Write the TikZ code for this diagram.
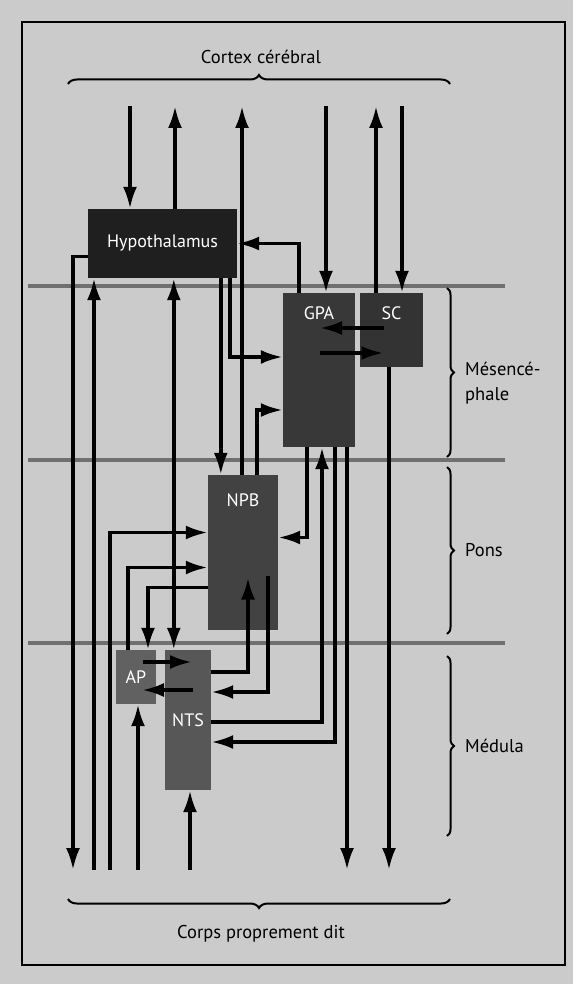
\documentclass[tikz,border=0pt]{standalone}
\usepackage{fontspec}
\setmainfont{PT Sans}
\usepackage{tikz}
\usetikzlibrary{arrows.meta,decorations.pathreplacing}
\definecolor{paper}{HTML}{CBCBCB}
\definecolor{sepGray}{HTML}{707070}

\begin{document}
\begin{tikzpicture}[
  x=1pt, y=-1pt,
  txt/.style={font=\fontsize{18.5}{22}\selectfont, inner sep=2pt},
  box/.style={fill=#1, text=white, font=\fontsize{18}{21}\selectfont, inner sep=0pt},
  lbl/.style={anchor=north, text=white, font=\fontsize{18}{21}\selectfont},
  arr/.style={-{Latex[length=22pt,width=14pt]}, line width=3.6pt},
  dbl/.style={{Latex[length=22pt,width=14pt]}-{Latex[length=22pt,width=14pt]}, line width=3.6pt},
  brc/.style={decorate, decoration={brace, amplitude=#1}, line width=2pt},
  sepline/.style={draw=sepGray, line width=4pt}
]
  \useasboundingbox (0,0) rectangle (573,984);
  \fill[paper] (0,0) rectangle (573,984);
  \draw[line width=1.4pt] (22,22) rectangle (565,965);

  \draw[sepline] (28,286) -- (505,286);
  \draw[sepline] (28,460) -- (505,460);
  \draw[sepline] (28,643) -- (505,643);

  \node[txt] (cortex) at (261,57) {Cortex cérébral};
  \node[txt] (corps) at (261,934) {Corps proprement dit};
  \node[txt, anchor=west, align=left, font=\fontsize{18.5}{25}\selectfont] (mes) at (463,383) {Mésencé-\\phale};
  \node[txt, anchor=west] (pons) at (463,550) {Pons};
  \node[txt, anchor=west] (med) at (463,746) {Médula};

  \draw[brc=9pt] (68,84) -- (450,84);
  \draw[brc=9pt] (450,899) -- (68,899);
  \draw[brc=7pt] (447,288) -- (447,457);
  \draw[brc=7pt] (447,467) -- (447,634);
  \draw[brc=7pt] (447,656) -- (447,836);

  \coordinate (ctx1) at (130,106);
  \coordinate (ctx2) at (175,106);
  \coordinate (ctx3) at (242,106);
  \coordinate (ctx4) at (326,106);
  \coordinate (ctx5) at (376,106);
  \coordinate (ctx6) at (402,106);
  \coordinate (crp1) at (73,870);
  \coordinate (crp2) at (94,870);
  \coordinate (crp3) at (110,870);
  \coordinate (crp4) at (138,870);
  \coordinate (crp5) at (190,870);
  \coordinate (crp6) at (347,870);
  \coordinate (crp7) at (389,870);

  \node[box=black!88, minimum width=149pt, minimum height=69pt] (hyp) at (162.5,243.5) {Hypothalamus};
  \node[box=black!78, minimum width=72pt, minimum height=154pt, label={[lbl, yshift=-10pt]north:GPA}] (gpa) at (319,370) {};
  \node[box=black!80, minimum width=63pt, minimum height=74pt, label={[lbl, yshift=-10pt]north:SC}] (sc) at (391.5,330) {};
  \node[box=black!74, minimum width=70pt, minimum height=155pt, label={[lbl, yshift=-15pt]north:NPB}] (npb) at (243,552.5) {};
  \node[box=black!62, minimum width=40pt, minimum height=54pt] (ap) at (136,677) {AP};
  \node[box=black!66, minimum width=46pt, minimum height=140pt] (nts) at (188,720) {NTS};

  \draw[arr] (ctx1) -- (ctx1 |- hyp.north);
  \draw[arr] (ctx2 |- hyp.north) -- (ctx2);
  \draw[arr] (ctx3 |- npb.north) -- (ctx3);
  \draw[arr] (ctx4) -- (ctx4 |- gpa.north);
  \draw[arr] (ctx5 |- sc.north) -- (ctx5);
  \draw[arr] (ctx6) -- (ctx6 |- sc.north);

  \draw[arr] ([xshift=16pt]gpa.north west) |- (hyp.east);
  \draw[arr] ([xshift=-7pt]hyp.south east) |- ([yshift=13pt]gpa.west);
  \draw[arr] ([xshift=133pt]hyp.south west) -- ([xshift=13pt]npb.north west);
  \draw[arr] ([xshift=-21pt]npb.north east) |- ([yshift=-40pt]gpa.west);
  \draw[dbl] ([xshift=86pt]hyp.south west) -- ([xshift=9pt]nts.north west);

  \draw[arr] ([xshift=-8pt,yshift=2pt]sc.center) -- ([xshift=1pt,yshift=42pt]gpa.center);
  \draw[arr] ([xshift=1pt,yshift=17pt]gpa.center) -- ([xshift=-8pt,yshift=-23pt]sc.center);

  \draw[arr] ([xshift=-12pt]gpa.south) |- ([yshift=15pt]npb.east);
  \draw[arr] ([yshift=-2pt]nts.east) -| ([xshift=3pt]gpa.south);
  \draw[arr] ([xshift=16pt]gpa.south) |- ([yshift=-22pt]nts.east);
  \draw[arr] (crp6 |- gpa.south) -- (crp6);
  \draw[arr] (crp7 |- sc.south) -- (crp7);

  \draw[arr] ([yshift=48pt]nts.east) -| ([xshift=5pt,yshift=-25pt]npb.center);
  \draw[arr] ([xshift=25pt,yshift=-23pt]npb.center) |- ([yshift=28pt]nts.east);

  \draw[arr] (crp3) |- ([yshift=20pt]npb.west);
  \draw[arr] ([xshift=-8pt]ap.north) |- ([yshift=-15pt]npb.west);
  \draw[arr] ([yshift=-35pt]npb.west) -| ([xshift=12pt]ap.north);

  \draw[arr] (crp2) -- (crp2 |- hyp.south);
  \draw[arr] ([yshift=-13pt]hyp.west) -| (crp1);

  \draw[arr] ([xshift=7pt,yshift=15pt]ap.center) -- ([xshift=4pt,yshift=58pt]nts.center);
  \draw[arr] ([xshift=5pt,yshift=30pt]nts.center) -- ([xshift=6pt,yshift=-13pt]ap.center);
  \draw[arr] (crp4) -- (crp4 |- ap.south);
  \draw[arr] (crp5) -- (crp5 |- nts.south);
\end{tikzpicture}
\end{document}
